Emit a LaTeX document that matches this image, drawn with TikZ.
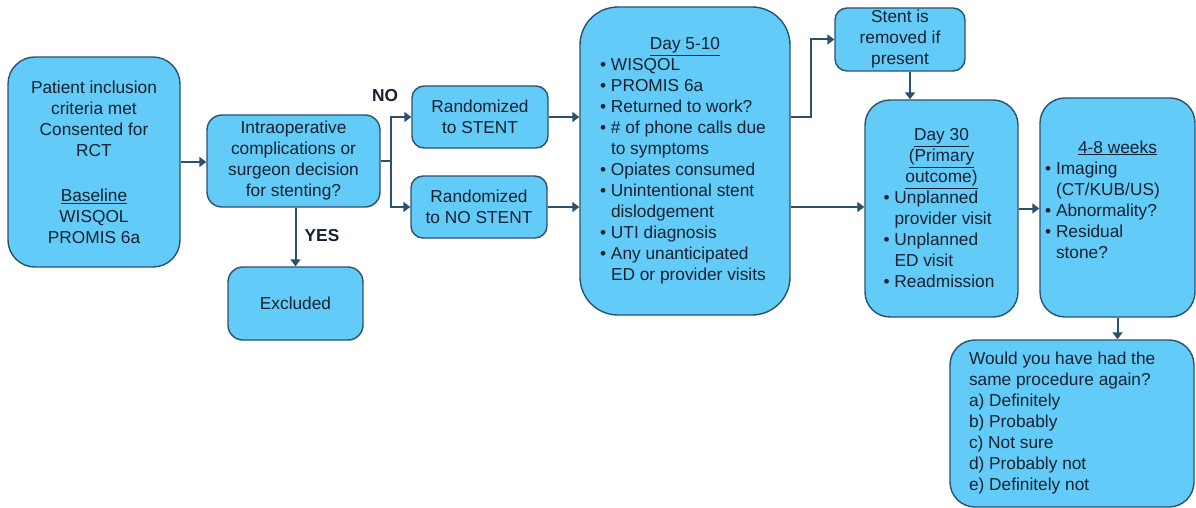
\documentclass[tikz,border=0pt]{standalone}
\usepackage{fontspec}
\setmainfont{Liberation Sans}
\usetikzlibrary{arrows.meta}
\definecolor{boxfill}{RGB}{99,203,247}
\definecolor{bord}{RGB}{42,82,110}
\definecolor{txt}{RGB}{22,32,48}
\newcommand{\bitem}[1]{\par\hangindent=11pt\hangafter=1\noindent\makebox[11pt][l]{\textbullet}#1}
\tikzset{
  box/.style={draw=bord, fill=boxfill, line width=1.4pt, rounded corners=#1, inner sep=0pt,
    font=\fontsize{17.3pt}{21pt}\selectfont, text=txt, align=center},
  ln/.style={draw=bord, line width=2pt},
  conn/.style={ln, -{Triangle[length=7pt,width=10pt]}},
  lab/.style={font=\fontsize{17.3pt}{21pt}\selectfont\bfseries, text=txt, inner sep=0pt}
}
\begin{document}
\begin{tikzpicture}[x=1pt,y=-1pt]
\useasboundingbox (0,0) rectangle (1196,508);
\node[box=27pt, minimum width=172pt, minimum height=210pt] (pat) at (94,162)
  {Patient inclusion\\criteria met\\Consented for\\RCT\\[24pt]\underline{Baseline}\\WISQOL\\PROMIS 6a};
\node[box=15pt, minimum width=173pt, minimum height=92pt] (intra) at (293.5,161)
  {Intraoperative\\complications or\\surgeon decision\\for stenting?};
\node[box=15pt, minimum width=135pt, minimum height=73pt] (excl) at (295.5,303.5) {Excluded};
\node[box=12pt, minimum width=136pt, minimum height=62pt] (stent) at (480,117) {Randomized\\to STENT};
\node[box=12pt, minimum width=136pt, minimum height=62pt] (nostent) at (479,207) {Randomized\\to NO STENT};
\node[box=38pt, minimum width=210pt, minimum height=308pt] (d510) at (685,161)
  {\begin{minipage}{170pt}\centering\underline{Day 5-10}\par\raggedright
  \bitem{WISQOL}
  \bitem{PROMIS 6a}
  \bitem{Returned to work?}
  \bitem{\# of phone calls due\newline to symptoms}
  \bitem{Opiates consumed}
  \bitem{Unintentional stent\newline dislodgement}
  \bitem{UTI diagnosis}
  \bitem{Any unanticipated\newline ED or provider visits}
  \end{minipage}};
\node[box=12pt, minimum width=130pt, minimum height=63pt] (rem) at (900,39.5) {Stent is\\removed if\\present};
\node[box=25pt, minimum width=153pt, minimum height=217pt] (d30) at (941.5,208.5)
  {\begin{minipage}{116pt}\centering\underline{Day 30}\\\underline{(Primary}\\\underline{outcome)}\par\raggedright
  \bitem{Unplanned\newline provider visit}
  \bitem{Unplanned\newline ED visit}
  \bitem{Readmission}
  \end{minipage}};
\node[box=25pt, minimum width=155pt, minimum height=219pt] (w48) at (1117.5,207.5)
  {\begin{minipage}[c][134pt][t]{145pt}\centering\underline{4-8 weeks}\par\raggedright
  \bitem{Imaging\newline (CT/KUB/US)}
  \bitem{Abnormality?}
  \bitem{Residual\newline stone?}
  \end{minipage}};
\node[box=25pt, minimum width=244pt, minimum height=167pt] (would) at (1072,423.5)
  {\begin{minipage}{206pt}\raggedright Would you have had the\\same procedure again?\\a) Definitely\\b) Probably\\c) Not sure\\d) Probably not\\e) Definitely not\end{minipage}};
\node[lab] (no) at (385,96) {NO};
\node[lab] (yes) at (322,236) {YES};
\coordinate (sp) at (391,161);
\draw[conn] (pat.east) -- (pat.east -| intra.west);
\draw[ln] (intra.east) -- (sp);
\draw[conn] (sp) |- (stent.west);
\draw[conn] (sp) |- (nostent.west);
\draw[conn] (excl.north |- intra.south) -- (excl.north);
\draw[conn] (stent.east) -- (stent.east -| d510.west);
\draw[conn] (nostent.east) -- (nostent.east -| d510.west);
\draw[conn] (d510.east |- stent.east) -- ++(20,0) |- (rem.west);
\draw[conn] (d510.east |- nostent.east) -- (d30.west |- nostent.east);
\draw[conn] ([xshift=10pt]rem.south) -- ([xshift=10pt]rem.south |- d30.north);
\draw[conn] (d30.east) -- (d30.east -| w48.west);
\draw[conn] (w48.south) -- (w48.south |- would.north);
\end{tikzpicture}
\end{document}
